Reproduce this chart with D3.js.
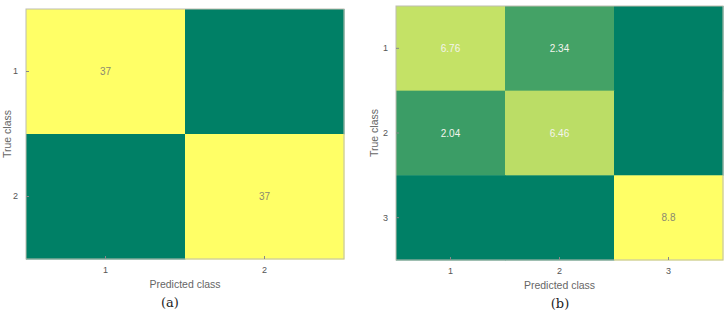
<!DOCTYPE html>
<html>
<head>
<meta charset="utf-8">
<script src="https://cdn.jsdelivr.net/npm/d3@7"></script>
<style>
  body { margin: 0; background: #fff; }
</style>
</head>
<body>
<div id="chart"></div>
<script>
const classesA = ["1", "2"];
const valuesA = [
  [37, 0],
  [0, 37],
];
const classesB = ["1", "2", "3"];
const valuesB = [
  [6.76, 2.34, 0],
  [2.04, 6.46, 0],
  [0, 0, 8.8],
];
const panelLabels = ["(a)", "(b)"];

const svg = d3
  .select("#chart")
  .append("svg")
  .attr("width", 726)
  .attr("height", 319);

function drawPanel(classes, values, box, tag) {
  const g = svg
    .append("g")
    .attr("transform", "translate(" + box.left + "," + box.top + ")");

  const x = d3.scaleBand().domain(classes).range([0, box.width]);
  const y = d3.scaleBand().domain(classes).range([0, box.height]);

  const maxVal = d3.max(values.flat());
  const color = d3
    .scaleLinear()
    .domain([0, maxVal])
    .range(["#008066", "#ffff66"]);

  const cells = [];
  values.forEach(function (row, i) {
    row.forEach(function (v, j) {
      cells.push({ t: classes[i], p: classes[j], v: v });
    });
  });

  g.selectAll("rect.cell")
    .data(cells)
    .enter()
    .append("rect")
    .attr("class", "cell")
    .attr("x", (d) => x(d.p))
    .attr("y", (d) => y(d.t))
    .attr("width", x.bandwidth() + 0.5)
    .attr("height", y.bandwidth() + 0.5)
    .attr("fill", (d) => color(d.v));

  g.selectAll("text.val")
    .data(cells.filter((d) => d.v > 0))
    .enter()
    .append("text")
    .attr("class", "val")
    .attr("x", (d) => x(d.p) + x.bandwidth() / 2)
    .attr("y", (d) => y(d.t) + y.bandwidth() / 2)
    .attr("dy", "0.35em")
    .attr("text-anchor", "middle")
    .attr("font-family", "Liberation Sans, Arial, sans-serif")
    .attr("font-size", 10)
    .attr("fill", (d) => (d.v / maxVal > 0.9 ? "#8a8a70" : "#f4f4ee"))
    .text((d) => d.v);

  // frame
  g.append("rect")
    .attr("width", box.width)
    .attr("height", box.height)
    .attr("fill", "none")
    .attr("stroke", "#bdbdb0")
    .attr("stroke-width", 1);

  const xAxis = g
    .append("g")
    .attr("transform", "translate(0," + box.height + ")")
    .call(d3.axisBottom(x).tickSizeInner(-3).tickSizeOuter(0).tickPadding(8));
  const yAxis = g
    .append("g")
    .call(d3.axisLeft(y).tickSizeInner(-3).tickSizeOuter(0).tickPadding(8));

  [xAxis, yAxis].forEach(function (a) {
    a.select(".domain").remove();
    a.selectAll("line").attr("stroke", "#888");
    a.selectAll("text")
      .attr("fill", "#555")
      .attr("font-size", 9)
      .attr("font-family", "Liberation Sans, Arial, sans-serif");
  });

  g.append("text")
    .attr("x", box.width / 2)
    .attr("y", box.height + 29)
    .attr("text-anchor", "middle")
    .attr("font-family", "Liberation Sans, Arial, sans-serif")
    .attr("font-size", 10.5)
    .attr("fill", "#666")
    .text("Predicted class");

  g.append("text")
    .attr("transform", "translate(" + box.ylab + "," + box.height / 2 + ") rotate(-90)")
    .attr("text-anchor", "middle")
    .attr("font-family", "Liberation Sans, Arial, sans-serif")
    .attr("font-size", 10.5)
    .attr("fill", "#666")
    .text("True class");

  g.append("text")
    .attr("x", box.tagX)
    .attr("y", box.height + 48)
    .attr("text-anchor", "middle")
    .attr("font-family", "DejaVu Serif, Liberation Serif, serif")
    .attr("font-size", 13)
    .attr("fill", "#222")
    .text(tag);
}

drawPanel(
  classesA,
  valuesA,
  { left: 26, top: 9, width: 318, height: 250, ylab: -15, tagX: 144 },
  panelLabels[0],
);
drawPanel(
  classesB,
  valuesB,
  { left: 396, top: 6, width: 327, height: 254, ylab: -18, tagX: 164 },
  panelLabels[1],
);
</script>
</body>
</html>
